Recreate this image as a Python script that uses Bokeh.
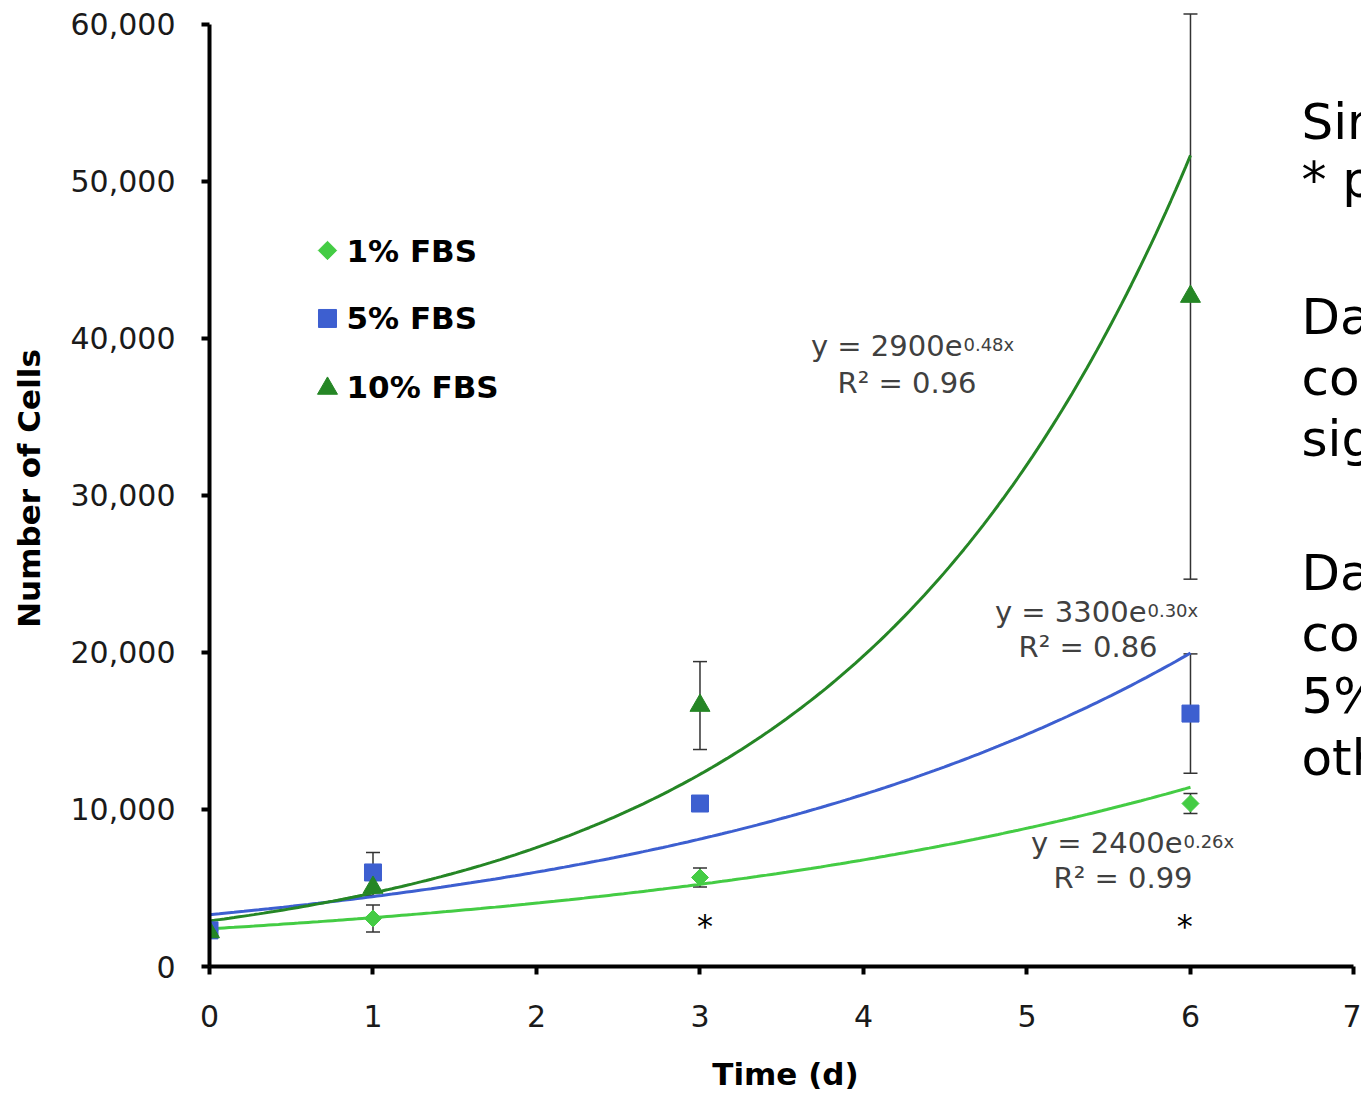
import numpy as np
from bokeh.plotting import figure
from bokeh.models import Range1d, ColumnDataSource, Whisker, TeeHead, FixedTicker, NumeralTickFormatter
from bokeh.core.properties import value
from bokeh.embed import file_html
from bokeh.resources import INLINE

# ---------------- data ----------------
days = [0, 1, 3, 6]
fbs1 = [2300, 3060, 5670, 10380]
fbs1_err = [150, 860, 600, 640]
fbs5 = [2300, 5990, 10380, 16110]
fbs5_err = [150, 1270, 300, 3800]
fbs10 = [2200, 5030, 16620, 42670]
fbs10_err = [150, 500, 2800, 18000]
series_labels = ["1% FBS", "5% FBS", "10% FBS"]
fit_a = [2400, 3300, 2900]
fit_b = [0.26, 0.30, 0.48]
fit_r2 = [0.99, 0.86, 0.96]
x_ticks = [0, 1, 2, 3, 4, 5, 6, 7]
y_ticks = [0, 10000, 20000, 30000, 40000, 50000, 60000]
sig_days = [3, 6]
side_text = ["Sim", "* p", "Day", "com", "sig", "Day", "com", "5%", "oth"]

colors = ["#44cc44", "#3d5fd0", "#258625"]

# pixel -> data helpers for annotation placement (frame: left 209, zero line 966)
def dx(px):
    return (px - 209) / 163.5

def dy(py):
    return (966 - py) / 157.0 * 10000

# baseline correction for the svg text placement
def base(py, size):
    return dy(py - 0.36 * size)

p = figure(width=1361, height=1094, x_range=Range1d(0, 7.046), y_range=Range1d(0, 60890),
           output_backend="svg", toolbar_location=None,
           min_border_left=209, min_border_right=0, min_border_top=10, min_border_bottom=128)
p.grid.visible = False
p.outline_line_color = None
p.background_fill_color = "white"
p.border_fill_color = "white"

for ax in (p.xaxis, p.yaxis):
    ax.axis_line_width = 4
    ax.axis_line_color = "black"
    ax.major_tick_line_width = 4
    ax.major_tick_line_color = "black"
    ax.major_tick_in = 0
    ax.major_tick_out = 8
    ax.minor_tick_line_color = None
    ax.major_label_text_font = "DejaVu Sans"
    ax.major_label_text_font_size = "30px"
    ax.major_label_text_color = "#1a1a1a"
    ax.axis_label_text_font = "DejaVu Sans"
    ax.axis_label_text_font_style = "bold"
    ax.axis_label_text_font_size = "31px"
    ax.axis_label_text_color = "black"

p.xaxis.ticker = FixedTicker(ticks=x_ticks)
p.yaxis.ticker = FixedTicker(ticks=y_ticks)
p.yaxis.formatter = NumeralTickFormatter(format="0,0")
p.xaxis.bounds = (0, 7)
p.yaxis.bounds = (0, 60000)
p.xaxis.axis_label = "Time (d)"
p.yaxis.axis_label = "Number of Cells"
p.xaxis.major_label_standoff = 30
p.yaxis.major_label_standoff = 26
p.xaxis.axis_label_standoff = 26
p.yaxis.axis_label_standoff = 21

# error bars
for vals, errs in ((fbs1, fbs1_err), (fbs5, fbs5_err), (fbs10, fbs10_err)):
    src = ColumnDataSource(dict(x=days,
                                upper=[v + e for v, e in zip(vals, errs)],
                                lower=[v - e for v, e in zip(vals, errs)]))
    w = Whisker(base="x", upper="upper", lower="lower", source=src,
                line_color="#333333", line_width=1.5,
                upper_head=TeeHead(size=14, line_color="#333333", line_width=1.5),
                lower_head=TeeHead(size=14, line_color="#333333", line_width=1.5))
    p.add_layout(w)

# exponential trend lines from displayed fits
xs = np.linspace(0, 6, 200)
for a, b, c in zip(fit_a, fit_b, colors):
    p.line(xs, a * np.exp(b * xs), line_color=c, line_width=3)

# markers
p.scatter(days, fbs1, marker="square", angle=np.pi / 4, size=12, color=colors[0])
p.scatter(days, fbs5, marker="square", size=17, color=colors[1])
p.scatter(days, fbs10, marker="triangle", size=20, color=colors[2])

# legend (custom)
leg_y = [dy(250), dy(318), dy(388)]
leg_x = [dx(327)] * 3
p.scatter(leg_x[:1], leg_y[:1], marker="square", angle=np.pi / 4, size=13, color=colors[0])
p.scatter(leg_x[1:2], leg_y[1:2], marker="square", size=18, color=colors[1])
p.scatter(leg_x[2:], leg_y[2:], marker="triangle", size=20, color=colors[2])
p.text(x=[dx(346)] * 3, y=[base(262, 31), base(329, 31), base(398, 31)], text=series_labels,
       text_font=value("DejaVu Sans"), text_font_style="bold", text_font_size="31px",
       text_color="black", text_baseline="alphabetic", text_align="left")

# equation labels
eq_join_px = [1182, 1146, 962]
eq_base_px = [853, 622, 356]
r2_left_px = [1053, 1018, 837]
r2_base_px = [888, 657, 393]
main_txt = ["y = %de" % a for a in fit_a]
sup_txt = ["%.2fx" % b for b in fit_b]
r2_txt = ["R² = %.2f" % r for r in fit_r2]
p.text(x=[dx(v) for v in eq_join_px], y=[base(v, 29) for v in eq_base_px], text=main_txt,
       text_font=value("DejaVu Sans"), text_font_size="29px", text_color="#404040",
       text_baseline="alphabetic", text_align="right")
p.text(x=[dx(v + 1) for v in eq_join_px], y=[base(v - 6, 18) for v in eq_base_px], text=sup_txt,
       text_font=value("DejaVu Sans"), text_font_size="18px", text_color="#404040",
       text_baseline="alphabetic", text_align="left")
p.text(x=[dx(v) for v in r2_left_px], y=[base(v, 29) for v in r2_base_px], text=r2_txt,
       text_font=value("DejaVu Sans"), text_font_size="29px", text_color="#404040",
       text_baseline="alphabetic", text_align="left")

# significance stars
p.text(x=[sig_days[0] + 0.03, sig_days[1] - 0.035], y=[dy(926)] * 2, text=["*", "*"],
       text_font=value("DejaVu Sans"), text_font_size="32px", text_color="black",
       text_baseline="alphabetic", text_align="center")

# clipped side text
side_base_px = [140, 198, 335, 396, 457, 591, 652, 714, 776]
p.text(x=[dx(1301)] * len(side_text), y=[base(v, 50) for v in side_base_px], text=side_text,
       text_font=value("DejaVu Sans"), text_font_size="50px", text_color="black",
       text_baseline="alphabetic", text_align="left")

open("out.html", "w").write(file_html(p, INLINE))
